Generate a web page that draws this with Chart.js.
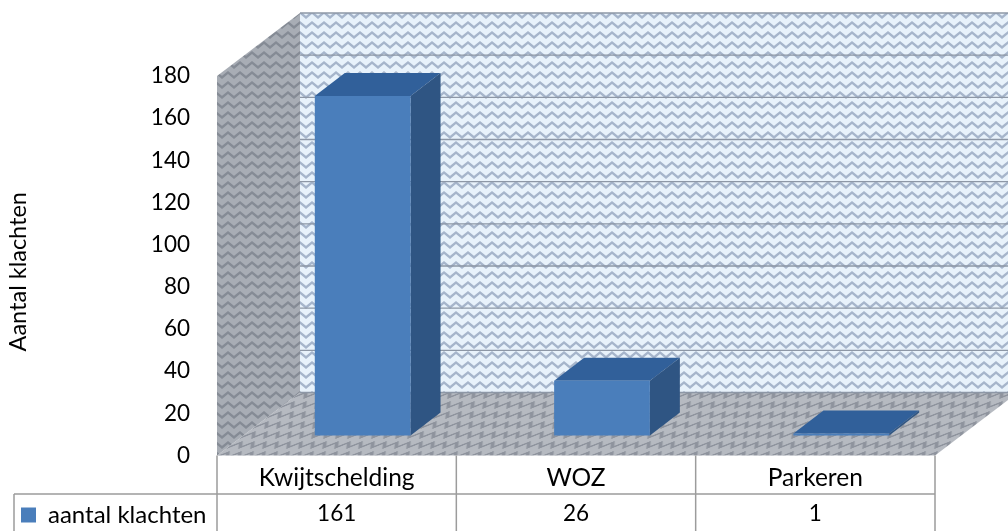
<!DOCTYPE html>
<html>
<head>
<meta charset="utf-8">
<style>
  html, body { margin: 0; padding: 0; background: #fff; }
  canvas { display: block; filter: blur(0.45px); }
</style>
<script src="https://cdn.jsdelivr.net/npm/chart.js@4"></script>
</head>
<body>
<canvas id="chart" width="1008" height="531"></canvas>
<script>
const categories = ['Kwijtschelding', 'WOZ', 'Parkeren'];
const seriesName = 'aantal klachten';
const seriesValues = [161, 26, 1];
const axisTitle = 'Aantal klachten';

const fontFamily = 'Lato, "Open Sans", sans-serif';
const textSize = 24.5;
const numberSize = 22.5;
// depth of the 3d box and of the bars, in pixels
const wallDx = 83, wallDy = -63;
const barShiftX = 26, barShiftY = -20;
const barDx = 30, barDy = -23;

function zigzagTile(bg, line, w, h) {
  const c = document.createElement('canvas');
  c.width = w; c.height = h;
  const g = c.getContext('2d');
  g.fillStyle = bg;
  g.fillRect(0, 0, w, h);
  g.strokeStyle = line;
  g.lineWidth = 2.4;
  g.beginPath();
  g.moveTo(-w / 2, h * 0.75);
  for (let x = 0; x <= 2 * w; x += w / 2) {
    g.lineTo(x, (x / (w / 2)) % 2 === 0 ? h * 0.25 : h * 0.75);
  }
  g.stroke();
  return c;
}

function poly(ctx, pts, fill) {
  ctx.beginPath();
  pts.forEach((p, i) => i ? ctx.lineTo(p[0], p[1]) : ctx.moveTo(p[0], p[1]));
  ctx.closePath();
  ctx.fillStyle = fill;
  ctx.fill();
}

const box3d = {
  id: 'box3d',
  beforeDatasetsDraw(chart) {
    const { ctx, chartArea: a, scales: { y } } = chart;
    const backTile = ctx.createPattern(zigzagTile('#e8f2fb', '#a6b5cb', 12, 10), 'repeat');
    const sideTile = ctx.createPattern(zigzagTile('#a8adb5', '#858b95', 12, 10), 'repeat');
    const floorTile = ctx.createPattern(zigzagTile('#b6bac1', '#8e939d', 12, 10), 'repeat');
    floorTile.setTransform(new DOMMatrix([1, 0, -1.3, 1, 0, 0]));

    // back wall
    ctx.fillStyle = backTile;
    ctx.fillRect(a.left + wallDx, a.top + wallDy, a.width, a.height);
    // floor and left wall
    poly(ctx, [[a.left, a.bottom], [a.right, a.bottom], [a.right + wallDx, a.bottom + wallDy], [a.left + wallDx, a.bottom + wallDy]], floorTile);
    poly(ctx, [[a.left, a.top], [a.left + wallDx, a.top + wallDy], [a.left + wallDx, a.bottom + wallDy], [a.left, a.bottom]], sideTile);

    // grid lines on the back wall
    ctx.strokeStyle = '#8d97a6';
    ctx.lineWidth = 1.4;
    y.ticks.forEach(t => {
      const py = y.getPixelForValue(t.value) + wallDy;
      ctx.beginPath();
      ctx.moveTo(a.left + wallDx, py);
      ctx.lineTo(a.right + wallDx, py);
      ctx.stroke();
    });
  },
  beforeDatasetDraw(chart, args) {
    const { ctx } = chart;
    const meta = chart.getDatasetMeta(args.index);
    meta.data.forEach(bar => {
      const l = bar.x - bar.width / 2 + barShiftX, r = bar.x + bar.width / 2 + barShiftX;
      const t = bar.y + barShiftY, b = bar.base + barShiftY;
      poly(ctx, [[l, t], [r, t], [r + barDx, t + barDy], [l + barDx, t + barDy]], '#31609a');
      poly(ctx, [[r, t], [r + barDx, t + barDy], [r + barDx, b + barDy], [r, b]], '#2f5583');
    });
    // the library draws the front face, pushed back onto the floor
    ctx.save();
    ctx.translate(barShiftX, barShiftY);
  },
  afterDatasetDraw(chart) {
    chart.ctx.restore();
  },
  afterDraw(chart) {
    const { ctx, chartArea: a, scales: { x } } = chart;
    const rowTop = 494, tableBottom = 531, legendLeft = 14;
    const half = (x.getPixelForTick(1) - x.getPixelForTick(0)) / 2;

    ctx.save();
    ctx.strokeStyle = '#9c9c9c';
    ctx.lineWidth = 1.5;
    ctx.beginPath();
    ctx.moveTo(legendLeft, rowTop); ctx.lineTo(a.right, rowTop);
    ctx.moveTo(legendLeft, rowTop); ctx.lineTo(legendLeft, tableBottom);
    ctx.moveTo(a.left, a.bottom); ctx.lineTo(a.left, tableBottom);
    categories.forEach((c, i) => {
      const px = x.getPixelForTick(i) + half;
      ctx.moveTo(px, a.bottom); ctx.lineTo(px, tableBottom);
    });
    ctx.stroke();

    ctx.fillStyle = '#000';
    ctx.font = numberSize + 'px ' + fontFamily;
    ctx.textAlign = 'center';
    ctx.textBaseline = 'middle';
    seriesValues.forEach((v, i) => ctx.fillText(String(v), x.getPixelForTick(i), 514));
    ctx.restore();
  }
};

new Chart(document.getElementById('chart'), {
  type: 'bar',
  plugins: [box3d],
  data: {
    labels: categories,
    datasets: [{
      label: seriesName,
      data: seriesValues,
      backgroundColor: '#4a7ebb',
      borderWidth: 0,
      clip: false,
      barPercentage: 0.4,
      categoryPercentage: 1
    }]
  },
  options: {
    responsive: false,
    animation: false,
    layout: { padding: { left: 15, top: 76, right: 73, bottom: -6 } },
    plugins: {
      tooltip: { enabled: false },
      legend: {
        position: 'bottom',
        align: 'start',
        labels: {
          boxWidth: 15,
          boxHeight: 15,
          padding: 6,
          color: '#000',
          font: { family: fontFamily, size: 24 }
        }
      }
    },
    scales: {
      x: {
        grid: { display: false },
        border: { display: false },
        ticks: { color: '#000', padding: 0, maxRotation: 0, font: { family: fontFamily, size: textSize } },
        afterFit(scale) { scale.height = 41.5; }
      },
      y: {
        min: 0,
        max: 180,
        grid: { display: false },
        border: { display: false },
        ticks: { stepSize: 20, color: '#000', padding: 19, font: { family: fontFamily, size: numberSize } },
        title: { display: true, text: axisTitle + '  ', color: '#000', font: { family: fontFamily, size: 23.5 }, padding: { top: -11, bottom: 0 } },
        afterFit(scale) { scale.width = 202; }
      }
    }
  }
});
</script>
</body>
</html>
